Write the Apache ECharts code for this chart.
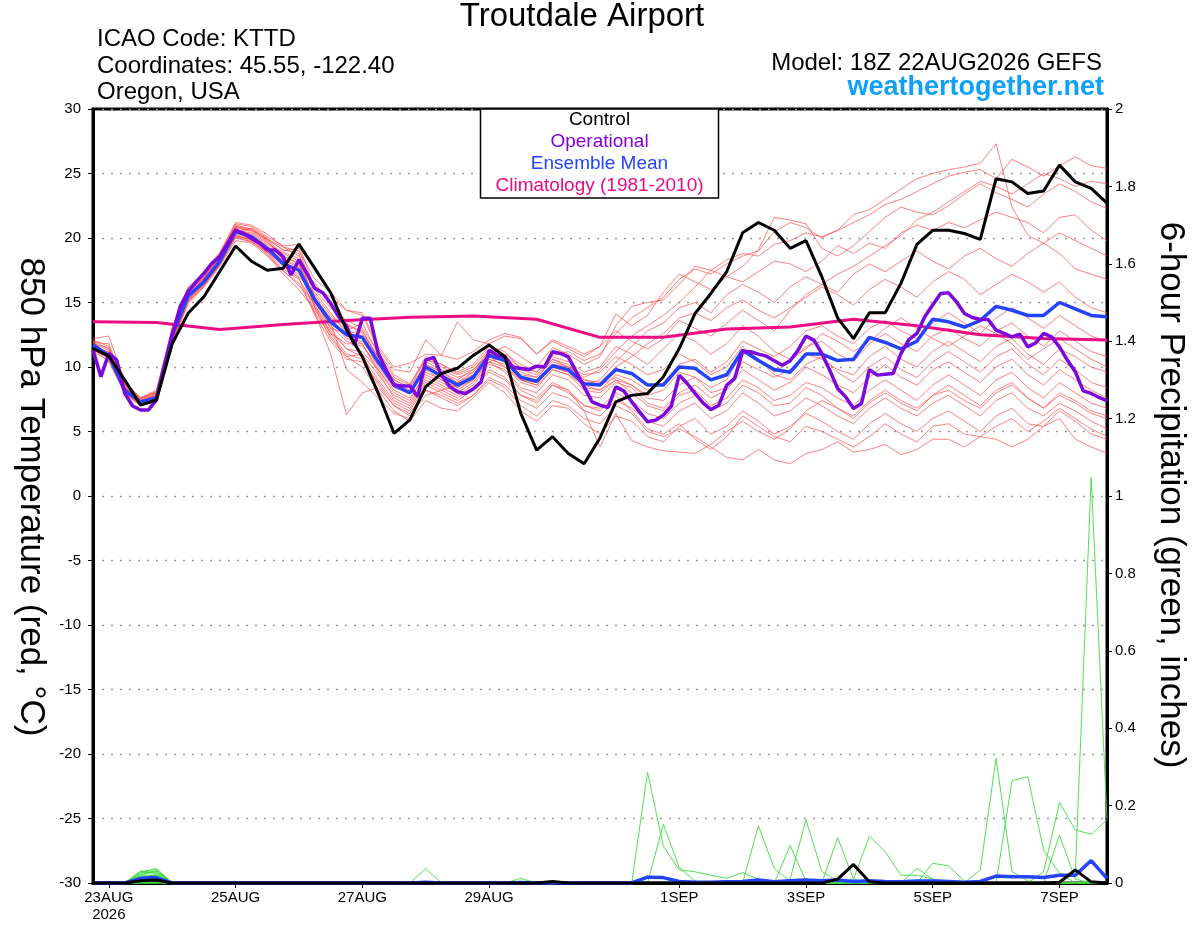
<!DOCTYPE html>
<html>
<head>
<meta charset="utf-8">
<title>Troutdale Airport</title>
<script src="https://cdn.jsdelivr.net/npm/echarts@6/dist/echarts.min.js"></script>
<style>
html, body { margin: 0; padding: 0; background: #fff; }
#chart { width: 1200px; height: 927px; }
</style>
</head>
<body>
<div id="chart"></div>
<script>
// hours counted from 00Z 22AUG2026, run starts at 18Z (6-hourly out to 384h)
var startHour = 18;
var stepHour = 6;
var opStepHour = 3;
var climStepHour = 24;
var tickHours = [24, 72, 120, 168, 240, 288, 336, 384];
var tickLabels = ['23AUG\n2026', '25AUG', '27AUG', '29AUG', '1SEP', '3SEP', '5SEP', '7SEP'];

// 850 hPa temperature (C)
var control = [11.45,10.85,9.0,7.05,7.44,11.8,14.16,15.45,17.4,19.38,18.2,17.5,17.65,19.53,17.65,15.76,12.87,10.8,7.96,4.86,5.9,8.48,9.5,9.9,10.9,11.7,10.8,6.4,3.55,4.6,3.3,2.5,4.5,7.3,7.8,7.95,9.24,11.43,14.15,15.7,17.4,20.4,21.2,20.6,19.2,19.8,17.0,13.8,12.2,14.2,14.2,16.5,19.5,20.6,20.6,20.35,19.9,24.6,24.35,23.45,23.65,25.65,24.35,23.85,22.7];

// operational run is 3-hourly
var operational = [11.32,9.25,11.06,10.54,7.96,6.98,6.67,6.67,7.44,10.0,12.48,14.68,15.84,16.6,17.26,18.04,18.55,19.59,20.62,20.36,19.97,19.59,19.07,19.07,18.55,17.13,18.3,17.26,16.1,15.76,14.94,13.9,13.18,11.71,13.77,13.77,11.06,9.77,8.6,8.53,8.53,7.7,10.54,10.75,9.37,8.5,8.08,7.95,8.3,8.85,11.3,10.92,10.79,10.0,9.88,9.8,10.06,10.0,11.18,11.05,10.79,9.63,8.46,7.3,7.04,6.86,8.46,8.15,7.3,6.52,5.75,5.88,6.27,6.96,9.37,8.72,7.95,7.22,6.7,7.04,8.59,9.11,11.2,11.18,11.0,10.84,10.48,10.14,10.48,11.3,12.39,12.08,11.05,9.75,8.33,7.69,6.78,7.17,9.8,9.37,9.44,9.5,11.05,12.13,12.6,13.89,14.8,15.7,15.75,15.05,14.15,13.84,13.68,13.68,12.86,12.6,12.34,12.55,11.56,11.87,12.6,12.34,11.56,10.53,9.63,8.15,7.95,7.64,7.38];

var ensMean = [11.7,10.9,8.2,7.3,7.6,12.5,15.5,16.6,18.2,20.5,20.1,19.2,18.0,17.5,15.2,13.5,12.5,12.3,10.4,8.6,8.0,10.0,9.3,8.6,9.2,10.9,10.5,9.2,8.9,10.1,9.8,8.7,8.6,9.8,9.5,8.6,8.6,10.0,9.9,9.0,9.4,11.3,10.5,9.8,9.6,11.0,11.0,10.5,10.6,12.3,11.9,11.4,12.0,13.7,13.5,13.1,13.6,14.7,14.4,14.0,14.0,15.0,14.5,14.0,13.9];

// climatology, one value a day
var climatology = [13.5,13.45,12.9,13.3,13.6,13.85,13.95,13.7,12.3,12.3,12.95,13.1,13.7,13.2,12.5,12.2,12.1];

// ensemble members
var member01 = [11.9,10.6,8.6,7.4,7.9,12.8,15.8,16.9,18.5,20.9,20.6,19.8,18.4,17.8,16.5,14.8,13.6,13.0,11.2,9.4,8.7,10.6,10.2,9.5,10.0,11.4,11.0,10.2,9.6,10.9,11.2,10.5,11.0,12.6,13.8,14.6,15.4,16.8,17.6,17.2,18.0,18.6,19.0,20.5,21.2,20.8,20.0,20.6,21.8,22.2,23.0,23.8,24.6,25.0,25.3,25.5,25.8,27.3,22.4,20.2,19.6,20.4,19.8,19.2,18.6];
var member02 = [11.4,11.2,8.0,7.2,7.5,12.2,15.2,16.5,18.0,20.3,20.0,19.1,17.9,17.0,15.8,14.2,12.6,12.8,10.8,9.0,8.4,10.2,9.6,9.0,9.8,11.0,11.6,10.8,10.0,11.5,11.0,10.2,10.8,13.2,14.7,15.0,15.2,16.4,17.8,17.5,18.3,18.8,18.6,19.5,19.8,20.4,20.1,20.6,21.2,21.8,22.6,23.0,23.6,24.2,24.8,25.1,25.3,24.6,26.1,25.5,24.8,25.6,26.3,25.6,25.4];
var member03 = [12.2,12.4,8.9,7.6,8.2,13.0,16.2,17.3,18.9,21.2,21.0,20.3,19.3,18.6,16.2,15.4,14.4,14.2,11.6,10.0,10.3,11.0,10.9,10.6,11.2,12.1,12.6,12.3,11.0,12.1,11.6,11.0,11.6,14.1,13.2,14.0,15.8,17.2,16.6,16.0,17.0,17.8,19.1,21.6,21.4,21.1,19.2,18.6,19.4,20.5,21.6,22.4,22.0,21.8,22.5,23.4,24.2,23.5,23.0,22.4,23.4,24.2,23.6,22.8,22.3];
var member04 = [11.2,10.5,7.9,7.0,7.3,11.8,14.9,16.2,17.8,19.8,19.6,18.6,17.5,16.3,15.0,13.2,12.0,11.6,10.2,8.8,8.2,9.8,9.0,8.4,9.4,10.6,10.2,9.0,8.6,10.2,10.0,9.2,9.8,11.2,12.4,13.2,14.0,15.0,16.2,17.5,17.0,16.6,17.4,18.2,18.0,17.4,18.2,19.4,18.8,19.6,19.2,20.4,21.0,20.6,21.2,20.8,21.4,22.0,21.6,21.2,20.4,21.6,21.8,20.6,19.8];
var member05 = [11.6,11.0,8.3,7.3,7.7,12.5,15.6,16.7,18.3,20.6,20.3,19.5,18.8,18.2,14.6,12.8,11.4,11.2,9.8,8.2,7.6,9.4,8.8,8.2,9.0,10.8,10.0,8.8,8.4,9.8,9.4,8.6,9.0,10.4,11.6,12.8,13.4,14.6,15.0,14.2,15.6,16.4,15.8,15.0,16.2,17.0,16.4,15.8,17.2,18.0,17.4,18.2,19.0,18.2,17.6,18.6,19.2,18.4,17.8,18.8,19.6,18.8,17.6,17.2,16.8];
var member06 = [12.0,10.8,8.5,7.5,8.0,12.6,15.5,16.8,18.4,20.4,20.8,20.0,19.0,19.2,15.4,13.6,12.2,12.0,10.4,8.6,8.0,10.0,9.4,8.8,9.6,11.2,10.6,9.4,9.2,10.6,10.0,9.0,8.8,10.0,10.8,11.8,12.6,13.8,14.2,13.6,14.6,15.2,14.4,13.8,14.6,15.4,16.2,15.6,14.8,16.0,16.8,16.2,15.4,16.6,17.4,16.8,15.6,16.4,17.2,16.6,15.8,16.6,15.4,14.6,14.2];
var member07 = [11.5,10.9,8.1,7.1,7.6,12.3,15.3,16.4,18.1,20.1,19.9,18.9,17.6,16.8,14.8,13.0,12.6,12.2,10.0,8.4,7.9,10.2,9.6,8.8,9.4,10.8,10.4,9.0,8.8,10.0,9.6,8.4,8.2,9.4,9.0,8.2,8.8,10.2,10.6,9.6,10.4,12.0,11.4,10.8,11.6,12.8,13.2,12.4,11.8,13.0,13.6,12.8,12.2,13.4,14.2,13.4,12.6,13.8,14.6,13.8,13.0,14.0,13.2,12.4,12.0];
var member08 = [11.8,11.5,8.4,7.4,7.8,12.7,15.7,17.0,18.6,20.7,20.2,19.4,18.2,17.4,15.6,14.0,12.8,13.4,11.0,9.2,8.6,10.8,10.2,9.6,10.2,11.6,11.2,9.8,9.4,10.6,10.2,9.0,8.6,9.2,8.6,7.8,8.2,9.6,9.2,8.4,9.0,11.2,10.6,9.6,10.4,11.6,12.0,11.0,10.4,11.8,12.6,11.8,11.2,12.4,13.0,12.2,11.6,12.8,13.4,12.4,11.6,12.8,12.0,11.2,10.8];
var member09 = [11.3,10.7,8.2,7.2,7.4,12.0,15.0,16.3,17.9,20.0,19.7,18.8,17.4,16.5,14.2,12.4,10.8,11.0,9.4,7.8,7.2,9.2,8.6,8.0,8.8,10.4,10.0,9.0,8.6,9.8,9.4,8.2,8.0,9.0,8.6,7.6,7.4,8.6,9.2,8.0,8.4,10.4,9.8,9.2,9.8,11.0,10.6,9.8,9.4,10.8,11.6,10.6,10.0,11.2,12.0,11.2,10.4,11.6,12.2,11.0,10.2,11.4,10.8,10.0,9.6];
var member10 = [12.1,11.6,8.7,7.5,8.1,12.9,16.0,17.1,18.7,21.0,20.7,19.9,18.6,18.0,15.2,13.8,13.2,12.8,10.6,8.8,8.0,10.4,9.8,9.2,9.6,11.0,10.6,9.6,9.2,10.4,10.0,9.4,9.6,10.8,10.2,9.4,9.8,11.0,10.4,9.4,10.0,11.6,10.6,9.4,9.0,10.2,10.8,9.6,8.8,10.0,10.8,9.8,9.2,10.4,11.2,10.4,9.6,10.8,11.4,10.2,9.4,10.6,9.8,8.8,8.4];
var member11 = [11.4,10.4,8.0,7.1,7.4,12.1,15.1,16.3,17.9,20.2,19.8,18.7,17.2,16.0,14.4,12.6,11.8,11.8,9.6,7.6,7.0,9.0,8.4,7.8,8.6,10.2,9.8,8.4,8.0,9.4,9.0,7.8,7.6,8.8,8.4,7.2,6.8,8.0,8.6,7.6,8.2,9.8,9.0,8.2,8.8,10.0,9.4,8.6,8.0,9.2,10.2,9.2,8.6,9.8,10.4,9.6,8.8,10.0,10.6,9.4,8.6,9.8,9.0,8.2,7.6];
var member12 = [11.9,11.8,8.6,7.6,8.1,13.1,16.1,17.2,18.8,21.1,20.9,20.1,19.4,19.5,16.0,14.6,13.4,12.6,10.8,9.0,8.4,10.6,10.0,9.4,9.8,11.2,10.4,9.2,8.8,10.0,9.6,8.6,8.2,9.0,8.0,7.0,6.6,7.8,8.2,7.0,7.6,9.0,8.4,7.4,7.8,8.8,8.4,7.6,7.0,8.2,9.0,8.2,7.4,8.6,9.4,8.6,7.8,9.0,9.6,8.4,7.6,8.8,8.0,7.2,6.8];
var member13 = [11.6,10.6,8.1,7.2,7.5,12.2,15.2,16.4,18.0,20.2,19.9,19.0,17.8,16.9,14.0,12.0,10.6,10.4,8.8,7.2,6.6,8.6,8.0,7.4,8.2,9.8,9.2,7.8,7.4,8.6,8.2,7.0,6.8,8.0,7.4,6.4,6.0,7.2,7.8,6.6,7.2,8.6,8.0,7.0,7.2,8.4,7.8,6.8,6.2,7.4,8.2,7.4,6.8,7.8,8.6,7.8,7.0,8.2,8.8,7.6,6.8,7.8,7.2,6.4,6.0];
var member14 = [11.7,11.1,8.4,7.4,7.8,12.6,15.6,16.8,18.4,20.6,20.4,19.6,18.9,18.4,15.0,13.4,9.8,8.8,7.6,6.4,6.0,8.2,7.6,7.0,7.8,9.2,8.6,7.4,6.8,8.0,7.6,6.6,6.2,7.4,6.8,5.8,5.4,6.6,7.2,6.0,6.6,8.0,7.2,6.2,6.6,7.6,7.0,6.2,5.6,6.8,7.6,6.8,6.2,7.2,7.8,7.0,6.2,7.4,8.0,6.8,6.2,7.2,6.6,5.8,5.2];
var member15 = [11.5,10.8,8.2,7.3,7.6,12.4,15.4,16.6,18.2,20.5,20.1,19.2,18.0,17.6,14.2,11.0,6.3,8.0,8.4,7.0,6.2,7.8,8.2,8.6,9.2,10.4,10.8,10.0,9.6,10.8,10.4,9.6,10.0,11.6,11.0,10.2,11.4,12.6,12.0,11.0,11.8,13.2,12.4,11.2,10.6,11.4,12.6,12.0,11.2,12.0,13.0,13.8,13.0,12.2,11.6,12.4,13.2,12.6,11.8,10.6,11.4,12.2,11.4,10.6,10.0];
var member16 = [11.8,11.3,8.5,7.4,7.9,12.7,15.8,16.9,18.5,20.8,20.5,19.7,18.6,18.0,14.6,12.2,10.8,10.0,8.2,6.6,5.8,7.4,6.8,6.6,7.6,8.8,8.0,6.6,5.8,7.0,6.8,5.6,4.8,6.2,5.8,4.6,4.2,5.4,6.0,4.8,5.4,6.6,5.8,4.8,5.4,6.4,5.8,5.0,4.4,5.6,6.4,5.6,5.0,6.0,6.6,5.8,5.0,6.2,6.8,5.6,5.4,6.6,5.8,4.8,4.4];
var member17 = [11.3,10.9,8.0,7.0,7.4,12.0,15.1,16.3,18.0,20.1,19.7,18.9,17.9,17.2,15.2,13.0,11.4,10.8,9.0,7.4,6.8,8.8,8.2,7.6,8.4,9.6,9.0,7.8,7.2,8.6,8.0,7.0,6.6,7.8,6.6,5.2,4.8,5.6,4.4,3.6,4.6,6.2,5.4,4.6,4.2,5.4,5.0,4.4,3.8,4.6,5.6,4.8,4.2,5.4,5.6,4.8,4.6,5.4,6.0,5.0,5.8,6.8,6.0,5.2,4.6];
var member18 = [12.0,11.4,8.7,7.6,8.0,12.8,15.9,17.0,18.7,20.9,20.7,19.9,19.1,18.8,14.8,12.6,11.0,10.6,8.6,7.0,6.4,8.2,7.8,7.2,7.8,9.0,8.4,7.0,6.2,7.4,7.0,6.0,5.6,7.0,6.4,5.0,4.6,5.2,4.6,3.8,3.0,2.8,3.6,2.8,2.5,3.3,3.6,4.2,3.4,3.6,4.0,3.2,3.6,4.4,4.4,3.8,4.6,4.4,3.8,4.4,5.4,6.0,4.4,3.8,3.3];
var member19 = [11.6,11.0,8.3,7.3,7.7,12.5,15.5,16.7,18.3,20.5,20.2,19.3,18.3,17.7,15.4,13.8,12.4,11.8,9.8,8.0,7.4,9.6,9.0,8.4,9.0,10.4,9.6,8.2,7.6,8.8,8.2,6.6,3.8,6.4,4.3,3.8,3.5,3.4,3.3,4.0,5.0,5.8,5.0,4.4,5.2,6.6,7.4,6.8,6.0,7.2,8.0,7.2,6.6,7.8,8.2,7.4,6.8,8.0,8.6,7.6,6.8,8.0,7.4,6.6,6.2];
var member20 = [11.7,10.9,8.4,7.4,7.8,12.6,15.7,16.9,18.6,20.8,20.6,19.9,19.3,19.0,16.8,15.8,14.4,14.0,11.4,9.8,9.6,12.1,10.9,13.5,12.1,11.8,12.4,12.2,11.0,12.0,11.4,10.8,11.6,12.8,12.0,11.4,12.2,13.6,13.0,12.4,13.4,14.4,13.6,12.8,14.4,15.6,16.4,17.2,17.8,18.6,19.4,20.2,21.4,22.0,22.8,23.6,24.4,24.0,23.4,24.2,25.0,24.6,24.0,24.4,24.2];
var members = [member01, member02, member03, member04, member05, member06, member07, member08, member09, member10,
  member11, member12, member13, member14, member15, member16, member17, member18, member19, member20];

// 6-hour precipitation (inches)
var precip01 = [0,0,0,0.03,0.035,0,0,0,0,0, 0,0,0,0,0,0,0,0,0,0, 0,0,0,0,0,0,0,0,0,0, 0,0,0,0,0,0.286,0.095,0.034,0.029,0.02, 0.012,0.027,0.01,0,0,0,0,0,0,0, 0,0,0,0,0,0,0,0,0,0, 0,0,0,0,0];
var precip02 = [0,0,0,0.025,0.038,0,0,0,0,0, 0,0,0,0,0,0,0,0,0,0, 0,0,0,0,0,0,0,0,0,0, 0,0,0,0,0,0,0.152,0.04,0.005,0, 0,0,0,0,0,0,0,0,0,0, 0,0,0,0,0,0,0,0,0,0, 0,0,0,0,0];
var precip03 = [0,0,0,0.02,0.03,0,0,0,0,0, 0,0,0,0,0,0,0,0,0,0, 0,0.037,0,0,0,0,0,0,0,0, 0,0,0,0,0,0,0,0,0,0, 0,0,0.148,0.037,0.005,0,0,0,0,0, 0,0,0,0,0,0,0,0,0,0, 0,0,0,0,0];
var precip04 = [0,0,0,0.028,0.025,0,0,0,0,0, 0,0,0,0,0,0,0,0,0,0, 0,0,0,0,0,0,0,0.012,0,0, 0,0,0,0,0,0,0,0,0,0, 0,0,0,0,0.097,0.005,0,0,0,0, 0,0,0,0,0,0,0,0,0,0, 0,0,0,0,0];
var precip05 = [0,0,0,0.022,0.032,0,0,0,0,0, 0,0,0,0,0,0,0,0,0,0, 0,0,0,0,0,0,0,0,0,0, 0,0,0,0,0,0,0,0,0,0, 0,0,0,0,0.01,0.164,0.03,0.005,0,0, 0,0,0,0,0,0,0,0,0,0, 0,0,0,0,0];
var precip06 = [0,0,0,0.018,0.02,0,0,0,0,0, 0,0,0,0,0,0,0,0,0,0, 0,0,0,0,0,0,0,0,0,0, 0,0,0,0,0,0,0,0,0,0, 0,0,0,0,0,0,0,0.117,0.01,0, 0,0,0,0,0,0,0,0,0,0, 0,0,0,0,0];
var precip07 = [0,0,0,0.03,0.028,0,0,0,0,0, 0,0,0,0,0,0,0,0,0,0, 0,0,0,0,0,0,0,0,0,0, 0,0,0,0,0,0,0,0,0,0, 0,0,0,0,0,0,0,0,0.01,0.121, 0.081,0.02,0.02,0.01,0,0,0,0,0,0, 0,0,0,0,0];
var precip08 = [0,0,0,0.015,0.022,0,0,0,0,0, 0,0,0,0,0,0,0,0,0,0, 0,0,0,0,0,0,0,0,0,0, 0,0,0,0,0,0,0,0,0,0, 0,0,0,0,0,0,0,0,0,0, 0,0,0.038,0.01,0.005,0,0,0,0,0, 0,0,0,0,0];
var precip09 = [0,0,0,0,0,0,0,0,0,0, 0,0,0,0,0,0,0,0,0,0, 0,0,0,0,0,0,0,0,0,0, 0,0,0,0,0,0,0,0,0,0, 0,0,0,0,0,0,0,0,0,0, 0,0,0,0.051,0.044,0.005,0,0,0,0, 0,0,0,0,0];
var precip10 = [0,0,0,0,0,0,0,0,0,0, 0,0,0,0,0,0,0,0,0,0, 0,0,0,0,0,0,0,0,0,0, 0,0,0,0,0,0,0,0,0,0, 0,0,0,0,0,0,0,0,0,0, 0,0,0,0,0,0,0.034,0.322,0.03,0.005, 0,0,0,0,0];
var precip11 = [0,0,0,0,0,0,0,0,0,0, 0,0,0,0,0,0,0,0,0,0, 0,0,0,0,0,0,0,0,0,0, 0,0,0,0,0,0,0,0,0,0, 0,0,0,0,0,0,0,0,0,0, 0,0,0,0,0,0,0,0,0.264,0.275, 0.085,0.025,0,0,0];
var precip12 = [0,0,0,0,0,0,0,0,0,0, 0,0,0,0,0,0,0,0,0,0, 0,0,0,0,0,0,0,0,0,0, 0,0,0,0,0,0,0,0,0,0, 0,0,0,0,0,0,0,0,0,0, 0,0,0,0,0,0,0,0,0,0, 0.03,0.208,0.137,0.126,0.163];
var precip13 = [0,0,0,0,0,0,0,0,0,0, 0,0,0,0,0,0,0,0,0,0, 0,0,0,0,0,0,0,0,0,0, 0,0,0,0,0,0,0,0,0,0, 0,0,0,0,0,0,0,0,0,0, 0,0,0,0,0,0,0,0,0,0, 0,0.124,0.01,0,0];
var precip14 = [0,0,0,0,0,0,0,0,0,0, 0,0,0,0,0,0,0,0,0,0, 0,0,0,0,0,0,0,0,0,0, 0,0,0,0,0,0,0,0,0,0, 0,0,0,0,0,0,0,0,0,0, 0,0,0,0,0,0,0,0,0,0, 0,0,0.025,1.048,0.165];
var precipMembers = [precip01, precip02, precip03, precip04, precip05, precip06, precip07,
  precip08, precip09, precip10, precip11, precip12, precip13, precip14];
var precipMean = [0,0,0,0.012,0.014,0,0,0,0,0, 0,0,0,0,0,0,0,0,0,0, 0,0.002,0,0,0,0,0,0.001,0,0, 0,0,0,0,0,0.015,0.014,0.004,0.002,0.002, 0.003,0.004,0.008,0.003,0.006,0.008,0.006,0.008,0.004,0.006, 0.004,0.003,0.005,0.005,0.004,0.002,0.004,0.018,0.016,0.016, 0.014,0.02,0.02,0.058,0.012];
var precipControl = [0,0,0,0.006,0.008,0,0,0,0,0, 0,0,0,0,0,0,0,0,0,0, 0,0,0,0,0,0,0,0,0,0.004, 0,0,0,0,0,0,0,0,0,0, 0,0,0,0,0,0,0,0.01,0.048,0.003, 0,0,0,0,0,0,0,0,0,0, 0,0.002,0.034,0.003,0];

function pairs(arr, step) {
  return arr.map(function (v, i) { return [startHour + i * step, v]; });
}

var font = '"Liberation Sans", Arial, Helvetica, sans-serif';
var series = [];

members.forEach(function (m) {
  series.push({
    type: 'line', data: pairs(m, stepHour), symbol: 'none', silent: true,
    lineStyle: { color: '#ff4a4a', width: 0.7 }
  });
});
precipMembers.forEach(function (p) {
  series.push({
    type: 'line', yAxisIndex: 1, data: pairs(p, stepHour), symbol: 'none', silent: true,
    lineStyle: { color: '#3edc3e', width: 0.9 }
  });
});
series.push({
  type: 'line', data: pairs(climatology, climStepHour), symbol: 'none',
  lineStyle: { color: '#ec0c84', width: 3 }
});
series.push({
  type: 'line', data: pairs(ensMean, stepHour), symbol: 'none',
  lineStyle: { color: '#2343ff', width: 3.5 }
});
series.push({
  type: 'line', yAxisIndex: 1, data: pairs(precipMean, stepHour), symbol: 'none',
  lineStyle: { color: '#2343ff', width: 3.5 }
});
series.push({
  type: 'line', data: pairs(operational, opStepHour), symbol: 'none',
  lineStyle: { color: '#7c08dc', width: 3.5 }
});
series.push({
  type: 'line', data: pairs(control, stepHour), symbol: 'none',
  lineStyle: { color: '#000', width: 3 }
});
series.push({
  type: 'line', yAxisIndex: 1, data: pairs(precipControl, stepHour), symbol: 'none',
  lineStyle: { color: '#000', width: 3 }
});

var chart = echarts.init(document.getElementById('chart'));
chart.setOption({
  animation: false,
  backgroundColor: '#fff',
  textStyle: { fontFamily: font },
  grid: {
    left: 93, right: 93, top: 109, bottom: 44,
    show: true, borderColor: '#000', borderWidth: 3
  },
  xAxis: {
    type: 'value', min: 18, max: 402,
    axisLine: { onZero: false, lineStyle: { color: '#000', width: 3 } },
    axisTick: { customValues: tickHours, length: 5, lineStyle: { color: '#000', width: 1 } },
    axisLabel: {
      customValues: tickHours, color: '#000', fontSize: 15, margin: 6, lineHeight: 17,
      formatter: function (v) { return tickLabels[tickHours.indexOf(v)]; }
    },
    splitLine: { show: false }
  },
  yAxis: [{
    type: 'value', min: -30, max: 30, interval: 5,
    axisLine: { show: true, lineStyle: { color: '#000', width: 3 } },
    axisTick: { show: true, length: 5, lineStyle: { color: '#000', width: 1 } },
    axisLabel: { color: '#000', fontSize: 15, margin: 12 },
    splitLine: { show: true, lineStyle: { color: '#9a9a9a', width: 1.3, type: [2, 7] } }
  }, {
    type: 'value', min: 0, max: 2, interval: 0.2, position: 'right',
    axisLine: { show: true, lineStyle: { color: '#000', width: 3 } },
    axisTick: { show: true, length: 5, lineStyle: { color: '#000', width: 1 } },
    axisLabel: {
      color: '#000', fontSize: 15, margin: 8,
      formatter: function (v) { return String(Math.round(v * 10) / 10); }
    },
    splitLine: { show: false }
  }],
  graphic: [
    { type: 'text', x: 582, y: 17, style: { text: 'Troutdale Airport', font: '33px ' + font, fill: '#000', align: 'center', verticalAlign: 'middle' } },
    { type: 'text', x: 97, y: 39, style: { text: 'ICAO Code: KTTD', font: '24px ' + font, fill: '#000', align: 'left', verticalAlign: 'middle' } },
    { type: 'text', x: 97, y: 66, style: { text: 'Coordinates: 45.55, -122.40', font: '24px ' + font, fill: '#000', align: 'left', verticalAlign: 'middle' } },
    { type: 'text', x: 97, y: 92, style: { text: 'Oregon, USA', font: '24px ' + font, fill: '#000', align: 'left', verticalAlign: 'middle' } },
    { type: 'text', x: 1102, y: 63, style: { text: 'Model: 18Z 22AUG2026 GEFS', font: '24px ' + font, fill: '#000', align: 'right', verticalAlign: 'middle' } },
    { type: 'text', x: 1104, y: 88, style: { text: 'weathertogether.net', font: 'bold 27px ' + font, fill: '#0fa0fa', align: 'right', verticalAlign: 'middle' } },
    { type: 'rect', shape: { x: 480.5, y: 109, width: 238, height: 89 }, style: { fill: '#fff', stroke: '#000', lineWidth: 1.5 }, z: 100 },
    { type: 'text', x: 599.5, y: 120, z: 101, style: { text: 'Control', font: '19px ' + font, fill: '#000', align: 'center', verticalAlign: 'middle' } },
    { type: 'text', x: 599.5, y: 142, z: 101, style: { text: 'Operational', font: '19px ' + font, fill: '#8400dc', align: 'center', verticalAlign: 'middle' } },
    { type: 'text', x: 599.5, y: 164, z: 101, style: { text: 'Ensemble Mean', font: '19px ' + font, fill: '#2343ff', align: 'center', verticalAlign: 'middle' } },
    { type: 'text', x: 599.5, y: 186, z: 101, style: { text: 'Climatology (1981-2010)', font: '19px ' + font, fill: '#ec0c84', align: 'center', verticalAlign: 'middle' } },
    { type: 'text', x: 31, y: 497, rotation: -Math.PI / 2, style: { text: '850 hPa Temperature (red, \u00b0C)', font: '35px ' + font, fill: '#000', align: 'center', verticalAlign: 'middle' } },
    { type: 'text', x: 1171, y: 495, rotation: -Math.PI / 2, style: { text: '6-hour Precipitation (green, inches)', font: '35px ' + font, fill: '#000', align: 'center', verticalAlign: 'middle' } }
  ],
  series: series
});
</script>
</body>
</html>
